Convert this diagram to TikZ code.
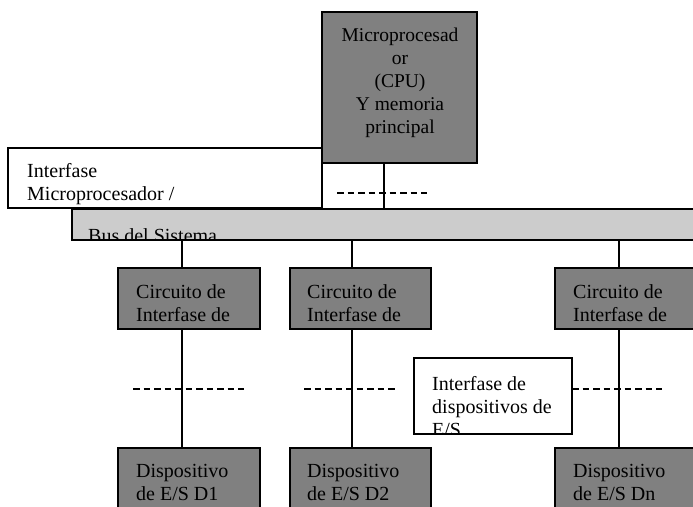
\documentclass[tikz,border=0pt]{standalone}
\usepackage{fontspec}
\setmainfont{Liberation Serif}
\begin{document}
\begin{tikzpicture}[x=1pt,y=-1pt,
  darkbox/.style={draw=black, line width=1.4pt, fill=black!50, inner sep=0pt, outer sep=0pt},
  lightbox/.style={draw=black, line width=1.4pt, fill=black!20, inner sep=0pt, outer sep=0pt},
  whitebox/.style={draw=black, line width=1.4pt, fill=white, inner sep=0pt, outer sep=0pt},
  txt/.style={font=\fontsize{20}{23}\selectfont, inner sep=0pt, align=left, anchor=west},
  ctxt/.style={font=\fontsize{19.5}{23}\selectfont, inner sep=0pt, align=center},
  ln/.style={line width=1.4pt},
  dsh/.style={line width=1.4pt, dash pattern=on 6.5pt off 4pt}]
\useasboundingbox (0,0) rectangle (693,506);
% boxes
\node[whitebox, minimum width=314pt, minimum height=60pt] (ifm) at (165,178) {};
\node[darkbox, minimum width=155pt, minimum height=151pt] (cpu) at (399.5,87.5) {};
\node[lightbox, minimum width=628pt, minimum height=31pt] (bus) at (386,224.5) {};
\node[darkbox, minimum width=142pt, minimum height=61pt] (ci1) at (189,298.5) {};
\node[darkbox, minimum width=141pt, minimum height=61pt] (ci2) at (360.5,298.5) {};
\node[darkbox, minimum width=165pt, minimum height=61pt] (ci3) at (637.5,298.5) {};
\node[darkbox, minimum width=142pt, minimum height=82pt] (d1) at (189,489) {};
\node[darkbox, minimum width=141pt, minimum height=82pt] (d2) at (360.5,489) {};
\node[darkbox, minimum width=165pt, minimum height=82pt] (dn) at (637.5,489) {};
\node[whitebox, minimum width=158pt, minimum height=76pt] (ifd) at (493,396) {};
% texts
\node[ctxt] (tcpu) at (400,82.5) {Microprocesad\\or\\(CPU)\\Y memoria\\principal};
\node[txt] (tifm) at (27,184) {Interfase\\Microprocesador /};
\begin{scope}
\clip (bus.north west) rectangle (bus.south east);
\node[font=\fontsize{20}{23}\selectfont, inner sep=0pt, anchor=base west] (tbus) at (88,242.5) {Bus del Sistema};
\end{scope}
\node[txt] (tci1) at (136,303) {Circuito de\\Interfase de};
\node[txt] (tci2) at (307,303) {Circuito de\\Interfase de};
\node[txt] (tci3) at (573,303) {Circuito de\\Interfase de};
\node[txt] (td1) at (136,482) {Dispositivo\\de E/S D1};
\node[txt] (td2) at (307,482) {Dispositivo\\de E/S D2};
\node[txt] (tdn) at (573,482) {Dispositivo\\de E/S Dn};
\begin{scope}
\clip (ifd.north west) rectangle (ifd.south east);
\node[txt] (tifd) at (432,407) {Interfase de\\dispositivos de\\E/S};
\end{scope}
% connector positions
\coordinate (vc) at (384,0);
\coordinate (v1) at (182,0);
\coordinate (v2) at (352,0);
\coordinate (v3) at (619,0);
\draw[ln] (cpu.south -| vc) -- (bus.north -| vc);
\draw[ln] (bus.south -| v1) -- (ci1.north -| v1);
\draw[ln] (bus.south -| v2) -- (ci2.north -| v2);
\draw[ln] (bus.south -| v3) -- (ci3.north -| v3);
\draw[ln] (ci1.south -| v1) -- (d1.north -| v1);
\draw[ln] (ci2.south -| v2) -- (d2.north -| v2);
\draw[ln] (ci3.south -| v3) -- (dn.north -| v3);
% dashed lines
\coordinate (da) at (337,193);
\coordinate (db) at (427,193);
\coordinate (d1a) at (133,389);
\coordinate (d1b) at (244,389);
\coordinate (d2a) at (304,389);
\coordinate (d2b) at (396,389);
\coordinate (d3b) at (662,389);
\draw[dsh] (da) -- (db);
\draw[dsh] (d1a) -- (d1b);
\draw[dsh] (d2a) -- (d2b);
\draw[dsh] (ifd.east |- d3b) -- (d3b);
\end{tikzpicture}
\end{document}
